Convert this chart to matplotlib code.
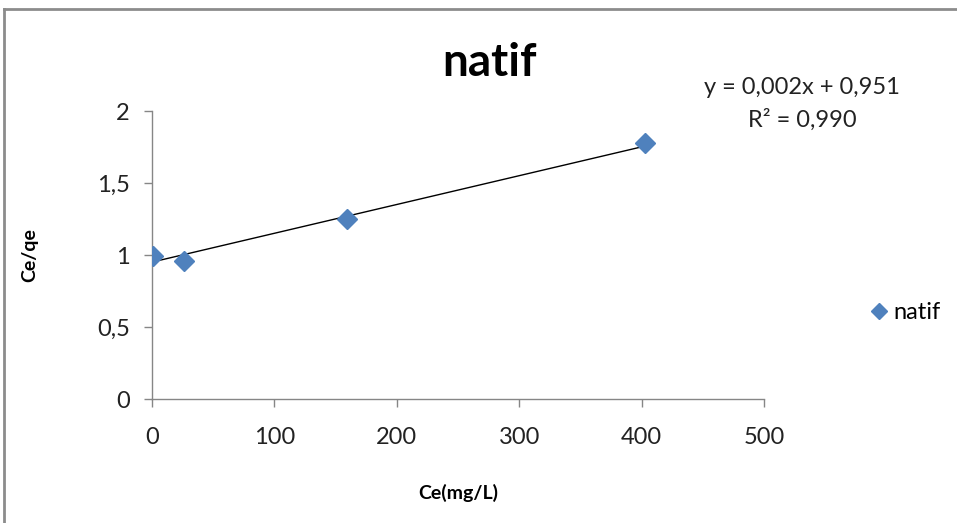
import numpy as np
import matplotlib.pyplot as plt
from matplotlib.lines import Line2D

plt.rcParams['font.family'] = ['Lato', 'DejaVu Sans']

# isotherm data (natif)
ce = [1, 26, 159, 403]
ce_qe = [0.99, 0.96, 1.25, 1.78]

# linear trend: y = a*x + b
slope = 0.002
intercept = 0.951
r2 = 0.990

x_ticks = [0, 100, 200, 300, 400, 500]
y_ticks = [0, 0.5, 1, 1.5, 2]
y_tick_labels = ['0', '0,5', '1', '1,5', '2']

fig = plt.figure(figsize=(9.57, 5.23), dpi=100)
ax = fig.add_axes([0.1588, 0.237, 0.6395, 0.5507])

xs = np.array([min(ce), max(ce)])
ax.plot(xs, slope * xs + intercept, color='black', lw=1.0, zorder=2)
ax.plot(ce, ce_qe, linestyle='none', marker='D', markersize=10,
        color='#4F81BD', markeredgecolor='#4F81BD', label='natif', zorder=3)

ax.set_xlim(0, 500)
ax.set_ylim(0, 2)
ax.set_xticks(x_ticks)
ax.set_xticklabels([str(v) for v in x_ticks])
ax.set_yticks(y_ticks)
ax.set_yticklabels(y_tick_labels)
ax.tick_params(direction='out', length=6, width=1, color='#868686',
               labelsize=17, labelcolor='#222222')
ax.tick_params(axis='x', pad=14)
ax.tick_params(axis='y', pad=10)
ax.spines['top'].set_visible(False)
ax.spines['right'].set_visible(False)
for s in ('left', 'bottom'):
    ax.spines[s].set_color('#868686')
    ax.spines[s].set_linewidth(1)

ax.set_xlabel('Ce(mg/L)', fontsize=14, fontweight='bold', labelpad=26)
ax.set_ylabel('Ce/qe', fontsize=14, fontweight='bold', labelpad=42)

fig.text(0.511, 0.88, 'natif', fontsize=33, fontweight='bold',
         ha='center', va='center')
fig.text(0.838, 0.832, 'y = 0,002x + 0,951', fontsize=17,
         ha='center', va='center', color='#222222')
fig.text(0.838, 0.771, 'R² = 0,990', fontsize=17,
         ha='center', va='center', color='#222222')

fig.legend(loc='center left', bbox_to_anchor=(0.884, 0.402), frameon=False,
           fontsize=17, handletextpad=0.1, handlelength=1.0, markerscale=0.8)

# chart area frame
fig.add_artist(Line2D([0.004, 1.0], [0.983, 0.983], color='#8c8c8c', lw=2,
                      transform=fig.transFigure))
fig.add_artist(Line2D([0.004, 0.004], [0.0, 0.983], color='#8c8c8c', lw=2,
                      transform=fig.transFigure))

fig.savefig('out.png', dpi=100)
